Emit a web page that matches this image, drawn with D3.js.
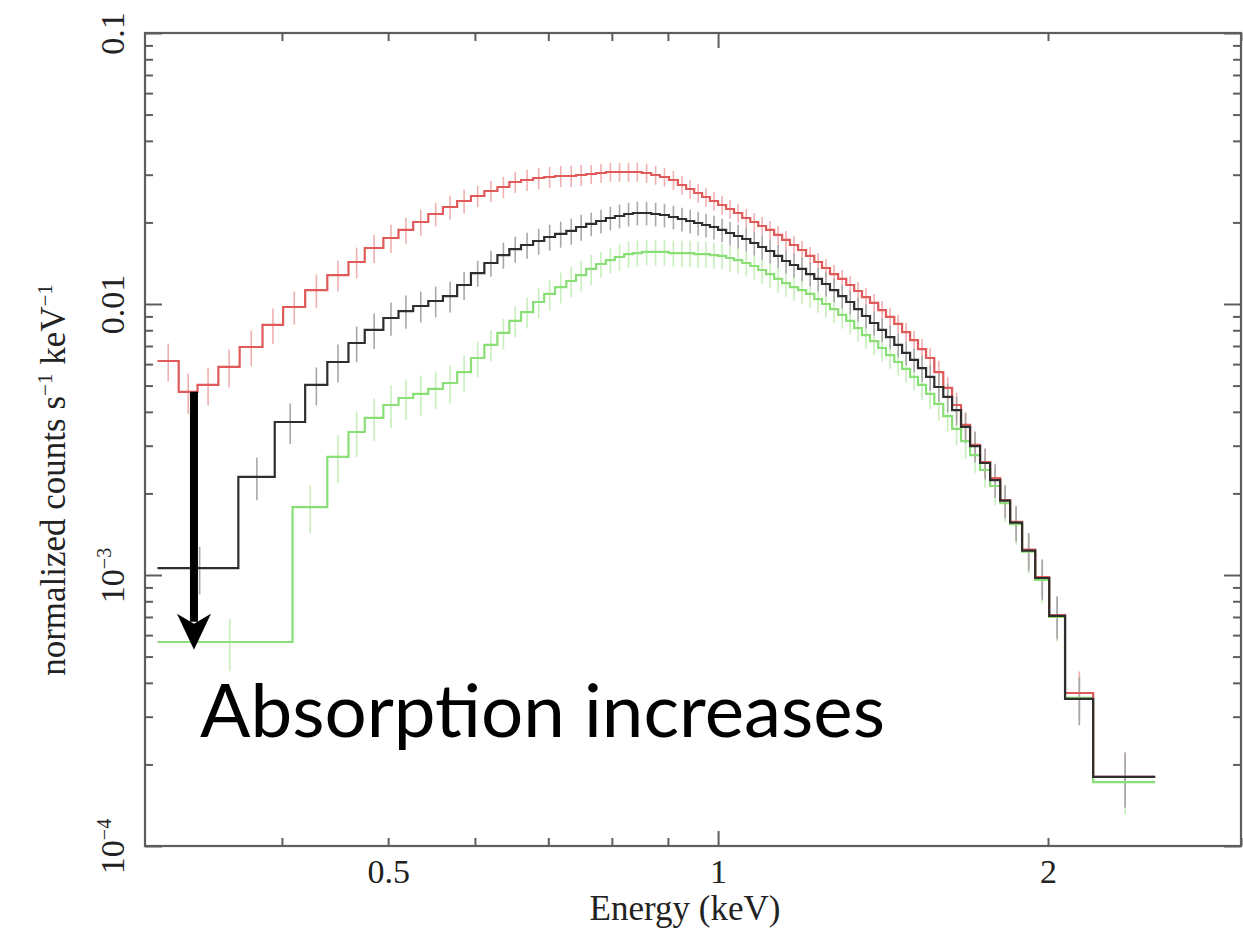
<!DOCTYPE html>
<html>
<head>
<meta charset="utf-8">
<script src="https://cdn.jsdelivr.net/npm/d3@7"></script>
<style>
  html, body { margin: 0; padding: 0; background: #fff; }
  svg { display: block; }
</style>
</head>
<body>
<svg id="chart" width="1243" height="942"></svg>
<script>
// ---------------------------------------------------------------------------
// Spectral data: binned count rates (normalized counts s^-1 keV^-1) for three
// absorption columns. Bins above 0.42 keV share one channel grid; the softest
// channels are grouped differently for each spectrum.
// ---------------------------------------------------------------------------

// Shared channel edges (keV)
const sharedEdges = [
  0.420, 0.440, 0.460, 0.476, 0.495, 0.511, 0.527, 0.544, 0.561, 0.578,
  0.595, 0.612, 0.629, 0.645, 0.661, 0.678, 0.694, 0.710, 0.727, 0.742,
  0.758, 0.774, 0.790, 0.805, 0.821, 0.836, 0.852, 0.869, 0.885, 0.902,
  0.919, 0.935, 0.951, 0.967, 0.983, 1.000, 1.017, 1.034, 1.052, 1.070,
  1.088, 1.106, 1.125, 1.144, 1.163, 1.183, 1.203, 1.224, 1.244, 1.265,
  1.287, 1.309, 1.331, 1.353, 1.376, 1.400, 1.423, 1.448, 1.472, 1.497,
  1.522, 1.548, 1.575, 1.605, 1.635, 1.666, 1.698, 1.734, 1.771, 1.809,
  1.847, 1.894, 1.947, 2.005, 2.073, 2.199, 2.505
];

// Soft-band grouping of each spectrum (keV)
const redLeadEdges   = [0.308, 0.322, 0.335, 0.350, 0.366, 0.384, 0.401];
const blackLeadEdges = [0.308, 0.365, 0.394];
const greenLeadEdges = [0.308, 0.409];

// Low absorption (red)
const redRates = [
  0.00616, 0.00474, 0.00503, 0.00586, 0.00694, 0.00837, 0.00975,
  0.01126, 0.01279, 0.01429, 0.01609, 0.01752, 0.01876, 0.02007, 0.02148, 0.02280, 0.02399,
  0.02503, 0.02612, 0.02702, 0.02820, 0.02868, 0.02917, 0.02942, 0.02967, 0.02967, 0.02993,
  0.03018, 0.03044, 0.03070, 0.03070, 0.03070, 0.03070, 0.03044, 0.02993, 0.02942, 0.02868,
  0.02749, 0.02657, 0.02568, 0.02482, 0.02399, 0.02319, 0.02242, 0.02167, 0.02077, 0.02007,
  0.01940, 0.01876, 0.01798, 0.01723, 0.01651, 0.01582, 0.01504, 0.01429, 0.01358, 0.01290,
  0.01237, 0.01175, 0.01117, 0.01061, 0.01009, 0.00950, 0.00896, 0.00844, 0.00788, 0.00736,
  0.00682, 0.00632, 0.00561, 0.00490, 0.00424, 0.00358, 0.00302, 0.00261, 0.00228, 0.00189,
  0.00157, 0.00124, 0.000983, 0.000712, 0.000367, 0.000180
];
const redRelErr = [
  0.16, 0.17, 0.16, 0.16, 0.15, 0.15, 0.14,
  0.14, 0.13, 0.13, 0.12, 0.12, 0.11, 0.11, 0.10, 0.10, 0.10,
  0.09, 0.09, 0.09, 0.09, 0.09, 0.09, 0.09, 0.09, 0.09, 0.09,
  0.08, 0.08, 0.08, 0.08, 0.08, 0.08, 0.08, 0.08, 0.08, 0.08,
  0.08, 0.08, 0.08, 0.08, 0.08, 0.08, 0.08, 0.08, 0.08, 0.08,
  0.08, 0.08, 0.08, 0.08, 0.08, 0.08, 0.08, 0.08, 0.08, 0.08,
  0.08, 0.08, 0.08, 0.08, 0.08, 0.08, 0.08, 0.08, 0.08, 0.08,
  0.09, 0.09, 0.10, 0.10, 0.11, 0.11, 0.12, 0.12, 0.13, 0.13,
  0.14, 0.15, 0.16, 0.17, 0.20, 0.23
];

// Intermediate absorption (black)
const blackRates = [
  0.00106, 0.00230, 0.00367,
  0.00503, 0.00611, 0.00718, 0.00802, 0.00888, 0.00942, 0.00983, 0.01026, 0.01070, 0.01175,
  0.01301, 0.01417, 0.01516, 0.01595, 0.01651, 0.01708, 0.01767, 0.01813, 0.01860, 0.01924,
  0.01974, 0.02024, 0.02077, 0.02112, 0.02148, 0.02167, 0.02167, 0.02148, 0.02130, 0.02094,
  0.02059, 0.02024, 0.01990, 0.01957, 0.01924, 0.01876, 0.01828, 0.01782, 0.01737, 0.01679,
  0.01623, 0.01569, 0.01504, 0.01441, 0.01393, 0.01347, 0.01290, 0.01237, 0.01185, 0.01126,
  0.01070, 0.01017, 0.00958, 0.00903, 0.00851, 0.00802, 0.00755, 0.00706, 0.00660, 0.00622,
  0.00580, 0.00538, 0.00494, 0.00454, 0.00406, 0.00352, 0.00299, 0.00259, 0.00224, 0.00188,
  0.00156, 0.00123, 0.000975, 0.000706, 0.000349, 0.000180
];
const blackRelErr = [
  0.20, 0.18, 0.17,
  0.16, 0.16, 0.15, 0.15, 0.14, 0.14, 0.13, 0.13, 0.13, 0.12,
  0.11, 0.11, 0.11, 0.11, 0.11, 0.11, 0.11, 0.11, 0.11, 0.11,
  0.10, 0.10, 0.10, 0.10, 0.10, 0.10, 0.10, 0.10, 0.10, 0.10,
  0.10, 0.10, 0.10, 0.10, 0.10, 0.10, 0.10, 0.10, 0.10, 0.10,
  0.10, 0.10, 0.10, 0.10, 0.10, 0.10, 0.10, 0.10, 0.10, 0.10,
  0.10, 0.10, 0.10, 0.10, 0.10, 0.10, 0.10, 0.10, 0.10, 0.10,
  0.11, 0.11, 0.12, 0.12, 0.12, 0.13, 0.13, 0.13, 0.14, 0.14,
  0.15, 0.16, 0.17, 0.18, 0.20, 0.23
];

// High absorption (green)
const greenRates = [
  0.000566, 0.00178,
  0.00273, 0.00337, 0.00380, 0.00424, 0.00450, 0.00466, 0.00486, 0.00511, 0.00561, 0.00632,
  0.00706, 0.00782, 0.00866, 0.00934, 0.01017, 0.01089, 0.01155, 0.01216, 0.01279, 0.01347,
  0.01405, 0.01453, 0.01491, 0.01529, 0.01542, 0.01556, 0.01556, 0.01556, 0.01542, 0.01542,
  0.01542, 0.01529, 0.01529, 0.01516, 0.01504, 0.01478, 0.01453, 0.01417, 0.01381, 0.01335,
  0.01290, 0.01237, 0.01195, 0.01155, 0.01126, 0.01089, 0.01043, 0.01000, 0.00958, 0.00911,
  0.00866, 0.00815, 0.00768, 0.00730, 0.00688, 0.00648, 0.00611, 0.00576, 0.00538, 0.00503,
  0.00466, 0.00428, 0.00386, 0.00346, 0.00312, 0.00277, 0.00244, 0.00213, 0.00184, 0.00154,
  0.00122, 0.000959, 0.000700, 0.000352, 0.000172
];
const greenRelErr = [
  0.22, 0.20,
  0.20, 0.19, 0.18, 0.18, 0.17, 0.17, 0.16, 0.16, 0.15, 0.15,
  0.13, 0.13, 0.13, 0.13, 0.13, 0.13, 0.13, 0.13, 0.13, 0.13,
  0.11, 0.11, 0.11, 0.11, 0.11, 0.11, 0.11, 0.11, 0.11, 0.11,
  0.11, 0.11, 0.11, 0.11, 0.11, 0.11, 0.11, 0.11, 0.11, 0.11,
  0.11, 0.11, 0.11, 0.11, 0.11, 0.11, 0.11, 0.11, 0.11, 0.11,
  0.11, 0.11, 0.11, 0.11, 0.11, 0.11, 0.11, 0.11, 0.11,
  0.12, 0.12, 0.13, 0.13, 0.13, 0.14, 0.14, 0.14, 0.15, 0.15,
  0.16, 0.17, 0.18, 0.19, 0.21, 0.24
];

// Axis ticks and labels
const xMajorTicks = [1];
const xMinorTicks = [0.4, 0.5, 0.6, 0.7, 0.8, 0.9, 2, 3];
const xLabelTicks = [0.5, 1, 2];
const xLabelText  = ["0.5", "1", "2"];
const yMajorTicks = [1e-4, 1e-3, 1e-2, 1e-1];
const yMinorTicks = [
  2e-4, 3e-4, 4e-4, 5e-4, 6e-4, 7e-4, 8e-4, 9e-4,
  2e-3, 3e-3, 4e-3, 5e-3, 6e-3, 7e-3, 8e-3, 9e-3,
  0.02, 0.03, 0.04, 0.05, 0.06, 0.07, 0.08, 0.09
];
// [base, superscript]
const yLabelText = [["10", "\u22124"], ["10", "\u22123"], ["0.01", ""], ["0.1", ""]];

// Annotation: arrow from the low-absorption soft flux down to the high-absorption level
const arrowNote = { energy: 0.3325, from: 0.00474, to: 0.00053 };
const noteText = "Absorption increases";
const notePos = { energy: 0.3368, rate: 0.000252 };

// ---------------------------------------------------------------------------
const plot = { left: 145, right: 1241, top: 33, bottom: 846 };
const x = d3.scaleLog().domain([0.3, 3]).range([plot.left, plot.right]);
const y = d3.scaleLog().domain([1e-4, 0.1]).range([plot.bottom, plot.top]);

const svg = d3.select("#chart");
const serif = "'Liberation Serif', 'Times New Roman', Times, serif";
const axisColor = "#5e5e5e";

function buildBins(edges, rates, relErr) {
  return rates.map((v, i) => ({
    lo: edges[i], hi: edges[i + 1], v: v, err: v * relErr[i]
  }));
}

const series = [
  { name: "green", bins: buildBins(greenLeadEdges.concat(sharedEdges.slice(1)), greenRates, greenRelErr),
    line: "#8ade76", bar: "#c8eebe" },
  { name: "red", bins: buildBins(redLeadEdges.concat(sharedEdges), redRates, redRelErr),
    line: "#e05a5a", bar: "#f0b0b0" },
  { name: "black", bins: buildBins(blackLeadEdges.concat(sharedEdges), blackRates, blackRelErr),
    line: "#2e2e2e", bar: "#a8a8a8" }
];

const plotArea = svg.append("g");

// Error bars first, then histogram outlines on top
series.forEach(s => {
  plotArea.append("g").attr("class", "err-" + s.name)
    .selectAll("line").data(s.bins).join("line")
    .attr("x1", d => x((d.lo + d.hi) / 2))
    .attr("x2", d => x((d.lo + d.hi) / 2))
    .attr("y1", d => y(d.v + d.err))
    .attr("y2", d => y(Math.max(d.v - d.err, 1e-6)))
    .attr("stroke", s.bar)
    .attr("stroke-width", 1.6);
});

const stepLine = d3.line()
  .x(d => x(d[0]))
  .y(d => y(d[1]))
  .curve(d3.curveStepAfter);

series.forEach(s => {
  const pts = s.bins.map(b => [b.lo, b.v]);
  const last = s.bins[s.bins.length - 1];
  pts.push([last.hi, last.v]);
  plotArea.append("path")
    .attr("d", stepLine(pts))
    .attr("fill", "none")
    .attr("stroke", s.line)
    .attr("stroke-width", 2.2);
});

// Frame
svg.append("rect")
  .attr("x", plot.left).attr("y", plot.top)
  .attr("width", plot.right - plot.left).attr("height", plot.bottom - plot.top)
  .attr("fill", "none").attr("stroke", axisColor).attr("stroke-width", 2.2);

function tickLayer(axisGen, values, size, transform) {
  const g = svg.append("g").attr("transform", transform)
    .call(axisGen.tickValues(values).tickSize(size).tickFormat(""));
  g.select(".domain").remove();
  g.selectAll(".tick line").attr("stroke", axisColor).attr("stroke-width", 2);
  return g;
}

// Inward ticks on all four sides
tickLayer(d3.axisBottom(x), xMinorTicks, -8, `translate(0,${plot.bottom})`);
tickLayer(d3.axisBottom(x), xMajorTicks, -15, `translate(0,${plot.bottom})`);
tickLayer(d3.axisTop(x), xMinorTicks, -8, `translate(0,${plot.top})`);
tickLayer(d3.axisTop(x), xMajorTicks, -15, `translate(0,${plot.top})`);
tickLayer(d3.axisLeft(y), yMinorTicks, -8, `translate(${plot.left},0)`);
tickLayer(d3.axisLeft(y), yMajorTicks, -17, `translate(${plot.left},0)`);
tickLayer(d3.axisRight(y), yMinorTicks, -8, `translate(${plot.right},0)`);
tickLayer(d3.axisRight(y), yMajorTicks, -17, `translate(${plot.right},0)`);

// Energy tick labels
const xLab = svg.append("g").attr("transform", `translate(0,${plot.bottom})`)
  .call(d3.axisBottom(x).tickValues(xLabelTicks).tickSize(0)
    .tickFormat((d, i) => xLabelText[i]));
xLab.select(".domain").remove();
xLab.selectAll("text")
  .attr("y", 37).attr("dy", null)
  .attr("font-family", serif).attr("font-size", 34).attr("fill", "#222");

// Rate tick labels, rotated, with exponents as superscripts
const yLab = svg.append("g").attr("transform", `translate(${plot.left},0)`)
  .call(d3.axisLeft(y).tickValues(yMajorTicks).tickSize(0).tickFormat(""));
yLab.select(".domain").remove();
yLab.selectAll(".tick text").each(function (d, i) {
  const t = d3.select(this)
    .attr("x", null).attr("dy", null)
    .attr("transform", "translate(-21,0) rotate(-90)")
    .attr("text-anchor", "middle")
    .attr("font-family", serif).attr("font-size", 34).attr("fill", "#222");
  const parts = yLabelText[i];
  t.append("tspan").text(parts[0]);
  if (parts[1]) {
    t.append("tspan").attr("dy", -13).attr("font-size", 20).text(parts[1]);
  }
});

// Axis titles
svg.append("text")
  .attr("x", 685).attr("y", 920)
  .attr("text-anchor", "middle")
  .attr("font-family", serif).attr("font-size", 35).attr("fill", "#222")
  .text("Energy (keV)");

const yTitle = svg.append("text")
  .attr("transform", "translate(65,480) rotate(-90)")
  .attr("text-anchor", "middle")
  .attr("font-family", serif).attr("font-size", 35).attr("fill", "#222");
yTitle.append("tspan").text("normalized counts s");
yTitle.append("tspan").attr("dy", -13).attr("font-size", 21).text("\u22121");
yTitle.append("tspan").attr("dy", 13).text(" keV");
yTitle.append("tspan").attr("dy", -13).attr("font-size", 21).text("\u22121");

// Annotation arrow
const ax = x(arrowNote.energy);
const tipY = y(arrowNote.to);
svg.append("line")
  .attr("x1", ax).attr("x2", ax)
  .attr("y1", y(arrowNote.from)).attr("y2", tipY - 28)
  .attr("stroke", "#000").attr("stroke-width", 8);
svg.append("path")
  .attr("d", `M${ax},${tipY} L${ax - 17},${tipY - 36} L${ax},${tipY - 26} L${ax + 17},${tipY - 36} Z`)
  .attr("fill", "#000");

const note = svg.append("text")
  .attr("x", x(notePos.energy)).attr("y", y(notePos.rate))
  .attr("font-family", "Lato, 'Open Sans', sans-serif")
  .attr("font-size", 76).attr("fill", "#000")
  .text(noteText);
// fit the annotation to its measured span
const noteLen = note.node().getComputedTextLength();
note.attr("font-size", 76 * 685 / noteLen);
</script>
</body>
</html>
